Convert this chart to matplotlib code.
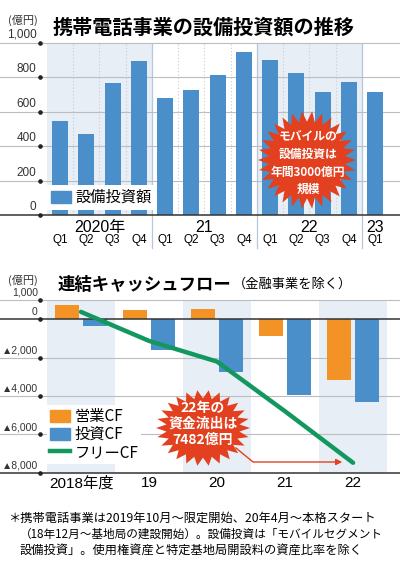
import numpy as np
import matplotlib
matplotlib.use('Agg')
import matplotlib.pyplot as plt
from matplotlib import font_manager
from matplotlib.patches import Polygon, Patch
from matplotlib.lines import Line2D
from matplotlib.transforms import blended_transform_factory as blend

plt.rcParams['font.family'] = ['Noto Sans CJK JP', 'DejaVu Sans']
installed = {f.name for f in font_manager.fontManager.ttflist}
NARROW = 'Liberation Sans Narrow' if 'Liberation Sans Narrow' in installed else 'Liberation Sans'
NUMF = [NARROW, 'Noto Sans CJK JP', 'DejaVu Sans']

W, H = 400, 569

# top chart data (億円, quarterly)
quarters = ['Q1', 'Q2', 'Q3', 'Q4'] * 3 + ['Q1']
capex = [548, 469, 766, 896, 681, 724, 813, 944, 901, 826, 712, 774, 714]
year_labels = ['2020年', '21', '22', '23']
top_ticks = [0, 200, 400, 600, 800, 1000]
top_tick_labels = ['0', '200', '400', '600', '800', '1,000']

# bottom chart data (億円, fiscal year)
cf_years = ['2018年度', '19', '20', '21', '22']
op_cf = [750, 490, 520, -870, -3150]
inv_cf = [-370, -1620, -2730, -3930, -4330]
free_cf = [380, -1130, -2210, -4800, -7482]
bot_ticks = [1000, 0, -2000, -4000, -6000, -8000]
bot_tick_labels = ['1,000', '0', '▲2,000', '▲4,000', '▲6,000', '▲8,000']

BLUE = '#4a8fca'
ORANGE = '#f39325'
GREEN = '#12985f'
BAND = '#e7eef6'
RED = '#e2401f'


def fx(x):
    return x / W


def fy(y):
    return 1 - y / H


def star_xy(cx, cy, rx, ry, n=28, inner=0.78):
    t = np.linspace(0, 2 * np.pi, 2 * n, endpoint=False)
    r = np.where(np.arange(2 * n) % 2 == 0, 1.0, inner)
    return np.column_stack([fx(cx + rx * r * np.cos(t)), fy(cy + ry * r * np.sin(t))])


fig = plt.figure(figsize=(W / 100, H / 100), dpi=100)

# ---------------- top chart ----------------
ax1 = fig.add_axes([fx(40), fy(215.3), 360 / W, 172.6 / H])
ax1.set_xlim(-0.767, 12.95)
ax1.set_ylim(0, 1000)
ax1.axis('off')

x = np.arange(len(capex))
for lo, hi in [(-0.5, 3.5), (7.5, 11.5)]:
    ax1.axvspan(lo, hi, color=BAND, lw=0, zorder=0)
for b in [0.5, 1.5, 2.5, 4.5, 5.5, 6.5, 8.5, 9.5, 10.5]:
    ax1.axvline(b, color='#c3cdd8', ls=(0, (1, 2)), lw=0.8, zorder=1)
for b in [3.5, 7.5, 11.5]:
    ax1.axvline(b, ymin=-0.19, ymax=1, color='#b6c7d9', lw=0.9, clip_on=False, zorder=1)
for t in top_ticks[1:]:
    ax1.axhline(t, xmin=-40 / 360, xmax=1, color='#bdbdbd', lw=0.8, clip_on=False, zorder=1)
ax1.axhline(0, xmin=-40 / 360, xmax=1, color='#333333', lw=1.1, clip_on=False, zorder=3)

ax1.bar(x, capex, width=0.61, color=BLUE, zorder=2)

tr = blend(ax1.transAxes, ax1.transData)
ax1.plot([0] * len(top_ticks), top_ticks, 'o', ms=2.3, color='#222222', transform=tr,
         clip_on=False, zorder=4)
for t, lab in zip(top_ticks, top_tick_labels):
    ax1.text(-0.01, t + 12, lab, transform=tr, ha='right', va='bottom', fontsize=8.5,
             color='#333333', family=NUMF)

trx = blend(ax1.transData, ax1.transAxes)
for i, q in enumerate(quarters):
    ax1.text(i, -0.145, q, transform=trx, ha='center', va='center', fontsize=8.5,
             family=NUMF)
for pos, lab in zip([1.5, 5.5, 9.5, 12], year_labels):
    ax1.text(pos, -0.07, lab, transform=trx, ha='center', va='center', fontsize=11.5,
             family=NUMF)

ax1.legend(handles=[Patch(color=BLUE, label='設備投資額')], loc='lower left',
           bbox_to_anchor=(fx(47), fy(210)), bbox_transform=fig.transFigure,
           borderaxespad=0, fontsize=11, handlelength=1.3, handleheight=0.9,
           handletextpad=0.3, borderpad=0.25, frameon=True, facecolor='white',
           edgecolor='none', fancybox=False, framealpha=1)

fig.text(fx(8), fy(20), '(億円)', ha='left', va='center', fontsize=8, color='#333333')
fig.text(fx(53), fy(27), '携帯電話事業の設備投資額の推移', ha='left', va='center',
         fontsize=14.5, fontweight='bold')

fig.add_artist(Polygon(star_xy(307, 160, 49, 49, n=30), closed=True, facecolor=RED,
                       edgecolor='none', transform=fig.transFigure, zorder=5))
fig.text(fx(308), fy(163.5), 'モバイルの\n設備投資は\n年間3000億円\n規模', ha='center',
         va='center', fontsize=8.5, fontweight='bold', color='white', linespacing=1.45,
         zorder=6)

# ---------------- bottom chart ----------------
ax2 = fig.add_axes([fx(40), fy(472.7), 360 / W, 172.7 / H])
ax2.set_xlim(-0.603, 4.69)
ax2.set_ylim(-8000, 1000)
ax2.axis('off')

xc = np.arange(len(cf_years))
for i in [0, 2, 4]:
    ax2.axvspan(i - 0.5, i + 0.5, color=BAND, lw=0, zorder=0)
for t in [1000, -2000, -4000, -6000]:
    ax2.axhline(t, xmin=-40 / 360, xmax=1, color='#bdbdbd', lw=0.8, clip_on=False, zorder=1)
for t in [0, -8000]:
    ax2.axhline(t, xmin=-40 / 360, xmax=1, color='#333333', lw=1.1, clip_on=False, zorder=3)

ax2.bar(xc - 0.206, op_cf, width=0.353, color=ORANGE, zorder=2)
ax2.bar(xc + 0.206, inv_cf, width=0.353, color=BLUE, zorder=2)
ax2.plot(xc, free_cf, color=GREEN, lw=3.2, solid_capstyle='round', zorder=4)

tr2 = blend(ax2.transAxes, ax2.transData)
ax2.plot([0] * len(bot_ticks), bot_ticks, 'o', ms=2.3, color='#222222', transform=tr2,
         clip_on=False, zorder=4)
for t, lab in zip(bot_ticks, bot_tick_labels):
    ax2.text(-0.006, t + 110, lab, transform=tr2, ha='right', va='bottom', fontsize=7.5,
             color='#333333', family=NUMF)

trx2 = blend(ax2.transData, ax2.transAxes)
for i, lab in enumerate(cf_years):
    ax2.text(i, -0.062, lab, transform=trx2, ha='center', va='center', fontsize=11,
             family=NUMF)

ax2.legend(handles=[Patch(color=ORANGE, label='営業CF'), Patch(color=BLUE, label='投資CF'),
                    Line2D([], [], color=GREEN, lw=3.2, label='フリーCF')],
           loc='lower left', bbox_to_anchor=(fx(47), fy(464)), bbox_transform=fig.transFigure,
           borderaxespad=0, fontsize=11, handlelength=1.3, handleheight=0.9,
           handletextpad=0.3, borderpad=0.2, labelspacing=0.05, frameon=True,
           facecolor='white', edgecolor='none', fancybox=False, framealpha=1)

fig.text(fx(8), fy(280), '(億円)', ha='left', va='center', fontsize=8, color='#333333')
fig.text(fx(58), fy(285), '連結キャッシュフロー', ha='left', va='center', fontsize=12.5,
         fontweight='bold')
fig.text(fx(233), fy(284), '（金融事業を除く）', ha='left', va='center', fontsize=9.5)

fig.add_artist(Polygon(star_xy(203, 428, 47, 38, n=26), closed=True, facecolor=RED,
                       edgecolor='none', transform=fig.transFigure, zorder=5))
fig.text(fx(203), fy(424), '22年の\n資金流出は\n7482億円', ha='center', va='center',
         fontsize=10, fontweight='bold', color='white', linespacing=1.2, zorder=6)

fig.add_artist(Line2D([fx(236), fx(253), fx(336)], [fy(448), fy(462), fy(462)],
                      color=RED, lw=1, transform=fig.transFigure, zorder=5))
ax2.annotate('', xy=(fx(345), fy(462)), xytext=(fx(334), fy(462)),
             xycoords='figure fraction', textcoords='figure fraction',
             arrowprops=dict(arrowstyle='-|>', color=RED, lw=1, mutation_scale=9),
             annotation_clip=False, zorder=5)

# ---------------- footnote ----------------
fig.text(fx(8), fy(518), '＊携帯電話事業は2019年10月～限定開始、20年4月～本格スタート',
         ha='left', va='center', fontsize=8.8)
fig.text(fx(20), fy(534), '（18年12月～基地局の建設開始）。設備投資は「モバイルセグメント',
         ha='left', va='center', fontsize=8.4)
fig.text(fx(20), fy(550), '設備投資」。使用権資産と特定基地局開設料の資産比率を除く',
         ha='left', va='center', fontsize=8.8)

fig.savefig('out.png', dpi=100)
